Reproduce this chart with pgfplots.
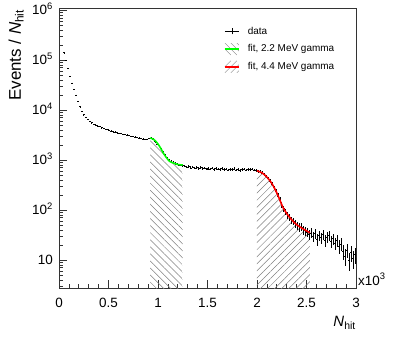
\documentclass[border=0pt]{standalone}
\usepackage{fontspec}
\setmainfont{Liberation Sans}
\usepackage{pgfplots}
\pgfplotsset{compat=1.18}
\usepackage{pgfplotstable}
\usetikzlibrary{patterns.meta}

% histogram: bin centre, events per N_hit, error
\pgfplotstableread{
N v e
50 140000 600
70 100000 505
90 69000 420
110 47000 347
130 35000 299
150 26000 258
170 20000 226
190 15000 196
210 11700 173
230 9500 156
250 8100 144
270 7100 135
290 6500 129
310 6000 124
330 5600 120
350 5250 116
370 5050 114
390 4800 111
410 4700 110
430 4450 107
450 4320 105
470 4150 103
490 4100 102
510 3900 100
530 3820 99
550 3700 97
570 3660 97
590 3550 95
610 3440 94
630 3420 93
650 3300 92
670 3260 91
690 3150 90
710 3120 89
730 3000 88
750 2960 87
770 2880 86
790 2850 85
810 2740 84
830 2720 83
850 2620 82
870 2590 81
890 2610 82
910 2700 83
930 2780 84
950 2620 82
970 2320 77
990 2100 73
1010 1950 71
1030 1700 66
1050 1460 61
1070 1260 57
1090 1110 53
1110 1000 50
1130 930 49
1150 890 48
1170 850 47
1190 830 46
1210 800 45
1230 790 45
1250 775 45
1270 760 44
1290 730 43
1310 745 44
1330 700 42
1350 725 43
1370 690 42
1390 712 43
1410 680 42
1430 705 42
1450 672 41
1470 692 42
1490 658 41
1510 684 42
1530 662 41
1550 690 42
1570 652 41
1590 676 42
1610 662 41
1630 642 41
1650 671 41
1670 646 41
1690 664 41
1710 632 40
1730 657 41
1750 641 41
1770 668 41
1790 636 40
1810 652 41
1830 628 40
1850 647 41
1870 662 41
1890 631 40
1910 656 41
1930 641 41
1950 660 41
1970 636 40
1990 618 40
2010 600 39
2030 585 39
2050 552 38
2070 512 36
2090 470 35
2110 432 33
2130 382 31
2150 330 29
2170 282 27
2190 235 25
2210 192 22
2230 158 20
2250 126 18
2270 106 16
2290 92 12.5
2310 79 11.6
2330 71 11
2350 63 10.3
2370 59 10
2390 53 9.5
2410 49 9.1
2430 45 8.7
2450 46 8.8
2470 40 8.2
2490 38 8
2510 36 7.8
2530 33 7.5
2550 35 7.7
2570 30 7.1
2590 34 7.6
2610 26 6.6
2630 31 7.2
2650 28 6.9
2670 33 7.5
2690 25 6.5
2710 29 7
2730 31 7.2
2750 24 6.4
2770 27 6.8
2790 22 6.1
2810 25 6.5
2830 19 5.7
2850 21 6
2870 15 5
2890 12 4.5
2910 16 5.2
2930 10 4.1
2950 14 4.9
2970 11 4.3
2990 13 4.7
}\hitdata

\pgfplotstableread{
N v
920 2754
950 2630
980 2344
1000 2089
1020 1820
1040 1549
1060 1318
1080 1148
1100 1023
1120 933
1140 891
1170 851
1200 813
1250 794
}\fitlow

\pgfplotstableread{
N v
2000 610
2050 555
2100 455
2150 340
2200 220
2230 160
2260 115
2300 85
2350 64
2400 51
2465 42
2535 35
}\fithigh

\begin{document}
\begin{tikzpicture}
\useasboundingbox (-59bp,-56bp) rectangle (356bp,288bp);
\begin{axis}[
    scale only axis,
    width=297bp, height=280bp,
    ymode=log,
    xmin=0, xmax=3000,
    ymin=2.75, ymax=1.1e6,
    axis line style={black!80, line width=0.7bp},
    tick align=inside, tick pos=left,
    major tick length=8bp, minor tick length=4bp,
    every tick/.style={black!80, line width=0.6bp},
    xtick={0,500,1000,1500,2000,2500,3000},
    xticklabels={0,0.5,1,1.5,2,2.5,3},
    minor x tick num=4,
    ytick={10,100,1000,10000,100000,1000000},
    yticklabels={10,10\textsuperscript{2},10\textsuperscript{3},10\textsuperscript{4},10\textsuperscript{5},10\textsuperscript{6}},
    minor ytick={3,4,5,6,7,8,9,20,30,40,50,60,70,80,90,200,300,400,500,600,700,800,900,2000,3000,4000,5000,6000,7000,8000,9000,20000,30000,40000,50000,60000,70000,80000,90000,200000,300000,400000,500000,600000,700000,800000,900000},
    tick label style={font=\fontsize{13.5}{16}\selectfont},
    xticklabel style={anchor=base, inner sep=0pt, yshift=-19bp},
    yticklabel style={anchor=base east, inner sep=0pt, xshift=-6bp, yshift=-4.7bp},
    xlabel={\textit{N}\textsubscript{hit}},
    xlabel style={at={(axis description cs:1,-0.139)}, anchor=base east, inner sep=0pt, font=\fontsize{15}{18}\selectfont},
    ylabel={Events / \textit{N}\textsubscript{hit}},
    ylabel style={at={(axis description cs:-0.128,0.995)}, anchor=base east, inner sep=0pt, font=\fontsize{17}{20}\selectfont},
    legend style={draw=none, fill=none, at={(axis description cs:0.555,0.94)}, anchor=north west,
        font=\fontsize{10}{12}\selectfont, row sep=5bp, inner sep=0pt, cells={anchor=west}},
]
% hatched areas under the fits
\addplot[draw=none, pattern={Lines[angle=-45,distance=5bp,line width=0.5bp]}, pattern color=black!50, forget plot]
    table[x=N, y=v] {\fitlow} \closedcycle;
\addplot[draw=none, pattern={Lines[angle=45,distance=5bp,line width=0.5bp]}, pattern color=black!50, forget plot]
    table[x=N, y=v] {\fithigh} \closedcycle;
% data
\addplot[draw=none, mark=none, forget plot,
    error bars/.cd, y dir=both, y explicit, x dir=both, x fixed=10, error mark=none,
    error bar style={draw=black, solid, line width=0.5bp}]
    table[x=N, y=v, y error=e] {\hitdata};
% fits
\addplot[draw=green, line width=1.6bp, smooth, forget plot] table[x=N, y=v] {\fitlow};
\addplot[draw=red, line width=1.6bp, smooth, forget plot] table[x=N, y=v] {\fithigh};

\addlegendimage{legend image code/.code={
    \path[draw=none] (0bp,0bp) -- (21bp,0bp);
    \draw[black, line width=0.6bp] (0bp,0bp) -- (14bp,0bp);
    \draw[black, line width=0.6bp] (7bp,-3bp) -- (7bp,3bp);}}
\addlegendentry{data}
\addlegendimage{legend image code/.code={
    \path[draw=none] (0bp,0bp) -- (21bp,0bp);
    \begin{scope}
    \path[draw=none, clip] (0bp,-6bp) rectangle (14bp,6bp);
    \foreach \s in {-6,0,6,12} \draw[black!50, line width=0.4bp] (\s bp,6bp) -- ++(12bp,-12bp);
    \end{scope}
    \draw[green, line width=1.6bp] (0bp,0bp) -- (14bp,0bp);}}
\addlegendentry{fit, 2.2 MeV gamma}
\addlegendimage{legend image code/.code={
    \path[draw=none] (0bp,0bp) -- (21bp,0bp);
    \begin{scope}
    \path[draw=none, clip] (0bp,-6bp) rectangle (14bp,6bp);
    \foreach \s in {-6,0,6,12} \draw[black!50, line width=0.4bp] (\s bp,-6bp) -- ++(12bp,12bp);
    \end{scope}
    \draw[red, line width=1.6bp] (0bp,0bp) -- (14bp,0bp);}}
\addlegendentry{fit, 4.4 MeV gamma}
\end{axis}
\node[anchor=base west, inner sep=0pt, font=\fontsize{13.5}{16}\selectfont]
    at ([shift={(2bp,3bp)}]current axis.south east) {x10\textsuperscript{3}};
\end{tikzpicture}
\end{document}
